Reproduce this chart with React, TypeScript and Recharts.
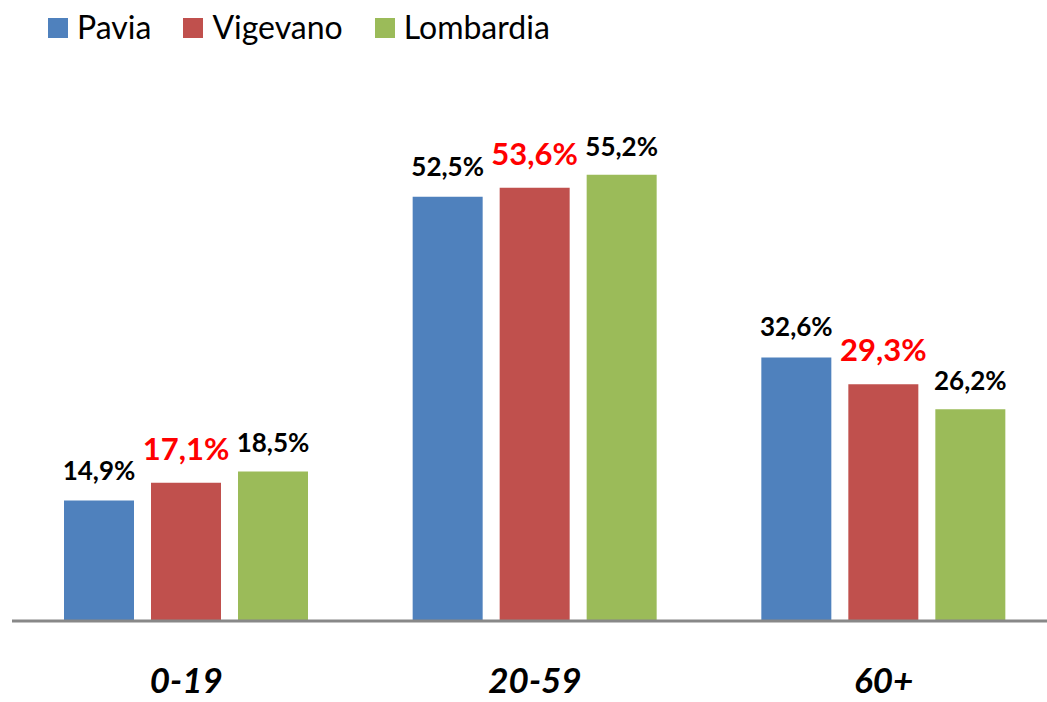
import React from "react"
import { BarChart, Bar, XAxis, YAxis, Legend, LabelList } from "recharts"

const categories = ["0-19", "20-59", "60+"]
const pavia = [14.9, 52.5, 32.6]
const vigevano = [17.1, 53.6, 29.3]
const lombardia = [18.5, 55.2, 26.2]

const seriesNames = ["Pavia", "Vigevano", "Lombardia"]
const seriesColors = ["#4f81bd", "#c0504d", "#9bbb59"]

const data = categories.map((c, i) => ({
  name: c,
  Pavia: pavia[i],
  Vigevano: vigevano[i],
  Lombardia: lombardia[i],
}))

const FONT = "Lato, 'Open Sans', sans-serif"

const fmt = (v: any) => Number(v).toFixed(1).replace(".", ",") + "%"

const CustomLegend = () => (
  <div style={{ display: "flex", alignItems: "center", fontFamily: FONT, fontSize: 32, color: "#000", height: 40, lineHeight: "40px" }}>
    {seriesNames.map((n, i) => (
      <div key={n} style={{ display: "flex", alignItems: "center", marginRight: 32 }}>
        <span style={{ display: "inline-block", width: 20, height: 20, background: seriesColors[i], marginRight: 9, marginTop: 2 }} />
        <span>{n}</span>
      </div>
    ))}
  </div>
)

const XTick = (props: any) => {
  const { x, y, payload } = props
  return (
    <text x={x} y={y + 64} textAnchor="middle" fontFamily={FONT} fontSize={35} fontWeight="bold" fontStyle="italic" fill="#000">
      {payload.value}
    </text>
  )
}

export default function App() {
  return (
    <div style={{ position: "absolute", top: 0, left: 0, width: 1047, height: 702, overflow: "hidden", background: "#fff" }}>
      <BarChart
        width={1060}
        height={702}
        data={data}
        margin={{ top: 96, right: 2, left: 12, bottom: 0 }}
        barSize={70}
        barGap={17}
        style={{ overflow: "visible" }}
      >
        <XAxis
          dataKey="name"
          tick={<XTick />}
          tickLine={false}
          axisLine={{ stroke: "#888888", strokeWidth: 3 }}
          height={81}
        />
        <YAxis domain={[0, 60]} hide />
        <Legend content={<CustomLegend />} verticalAlign="top" align="left" wrapperStyle={{ top: 7, left: 48 }} />
        <Bar dataKey="Pavia" fill={seriesColors[0]} isAnimationActive={false}>
          <LabelList dataKey="Pavia" position="top" offset={21} formatter={fmt} fill="#000" fontSize={26} fontWeight="bold" fontFamily={FONT} />
        </Bar>
        <Bar dataKey="Vigevano" fill={seriesColors[1]} isAnimationActive={false}>
          <LabelList dataKey="Vigevano" position="top" offset={23} formatter={fmt} fill="#ff0000" fontSize={31} fontWeight="bold" fontFamily={FONT} />
        </Bar>
        <Bar dataKey="Lombardia" fill={seriesColors[2]} isAnimationActive={false}>
          <LabelList dataKey="Lombardia" position="top" offset={19} formatter={fmt} fill="#000" fontSize={26} fontWeight="bold" fontFamily={FONT} />
        </Bar>
      </BarChart>
    </div>
  )
}
